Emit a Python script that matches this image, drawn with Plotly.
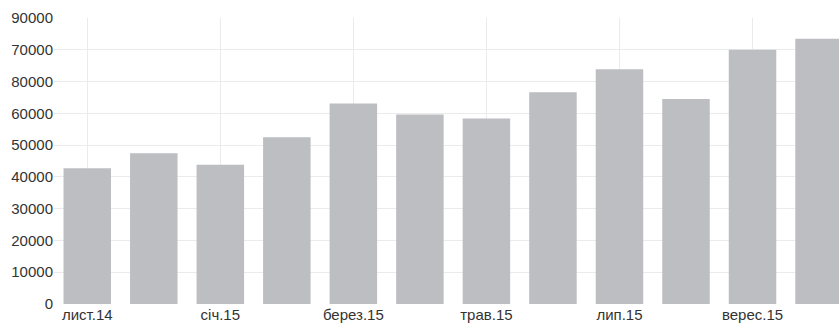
import plotly.graph_objects as go

months = ["лист.14", "груд.14", "січ.15", "лют.15", "берез.15", "квіт.15",
          "трав.15", "черв.15", "лип.15", "серп.15", "верес.15", "жовт.15"]
values = [42700, 47400, 43800, 52500, 63100, 59600, 58400, 66600, 73900, 64500, 80000, 83500]
y_tick_vals = [0, 10000, 20000, 30000, 40000, 50000, 60000, 70000, 80000, 90000]
y_tick_text = ["0", "10000", "20000", "30000", "40000", "50000", "60000", "80000", "70000", "90000"]
x_tick_labels = months[::2]

fig = go.Figure(go.Bar(x=months, y=values, marker=dict(color="#bdbec2", line=dict(width=0))))

fig.update_layout(
    width=839, height=325,
    margin=dict(l=54, r=0, t=18, b=21),
    paper_bgcolor="white", plot_bgcolor="white",
    bargap=0.286,
    showlegend=False,
    font=dict(family="Liberation Sans, Arial, sans-serif", size=15, color="#333333"),
)
fig.update_xaxes(
    range=[-0.5, 11.3],
    tickmode="array", tickvals=x_tick_labels, ticktext=x_tick_labels,
    showgrid=True, gridcolor="#ebebeb", gridwidth=1,
    showline=False, zeroline=False, ticks="", tickangle=0,
)
fig.update_yaxes(
    range=[0, 90000],
    tickmode="array", tickvals=y_tick_vals, ticktext=y_tick_text,
    showgrid=True, gridcolor="#ebebeb", gridwidth=1,
    showline=False, zeroline=False, ticks="",
)

fig.write_html("out.html")
